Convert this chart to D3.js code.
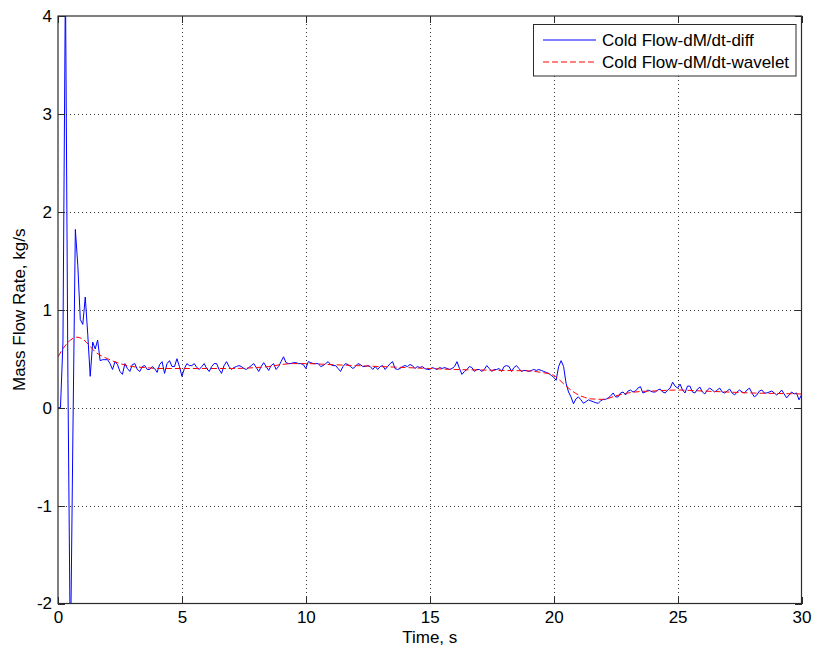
<!DOCTYPE html>
<html>
<head>
<meta charset="utf-8">
<script src="https://cdn.jsdelivr.net/npm/d3@7"></script>
<style>
  html, body { margin: 0; padding: 0; background: #fff; }
  svg { display: block; }
  text { font-family: "Liberation Sans", Arial, Helvetica, sans-serif; fill: #000; }
</style>
</head>
<body>
<svg id="chart" width="814" height="652"></svg>
<script>
// Time base of the differentiated signal (one sample every 0.1 s, from 0 s to 30 s)
const sampleStep = 0.1;

// Cold flow mass flow rate from direct differentiation of the mass, kg/s
const diffRate = [
  0, 0, 0.67, 4.4, 0.3, -2.6, -0.3, 1.82, 1.45, 0.9,
  0.85, 1.13, 0.75, 0.32, 0.67, 0.6, 0.69, 0.48, 0.49, 0.49,
  0.49, 0.45, 0.39, 0.47, 0.44, 0.37, 0.34, 0.45, 0.40, 0.37,
  0.44, 0.45, 0.39, 0.37, 0.42, 0.43, 0.39, 0.39, 0.42, 0.40,
  0.36, 0.44, 0.47, 0.35, 0.45, 0.48, 0.42, 0.42, 0.50, 0.42,
  0.32, 0.40, 0.45, 0.43, 0.43, 0.45, 0.41, 0.39, 0.42, 0.45,
  0.40, 0.37, 0.42, 0.45, 0.45, 0.39, 0.35, 0.43, 0.47, 0.42,
  0.39, 0.41, 0.42, 0.43, 0.42, 0.40, 0.39, 0.41, 0.43, 0.45,
  0.41, 0.37, 0.42, 0.46, 0.42, 0.38, 0.43, 0.45, 0.39, 0.42,
  0.47, 0.52, 0.46, 0.45, 0.45, 0.46, 0.46, 0.45, 0.45, 0.44,
  0.40, 0.47, 0.46, 0.45, 0.45, 0.45, 0.42, 0.43, 0.45, 0.47,
  0.44, 0.43, 0.43, 0.40, 0.37, 0.42, 0.45, 0.44, 0.42, 0.40,
  0.42, 0.45, 0.44, 0.42, 0.42, 0.43, 0.42, 0.39, 0.42, 0.39,
  0.42, 0.43, 0.39, 0.42, 0.45, 0.47, 0.40, 0.39, 0.40, 0.42,
  0.43, 0.42, 0.44, 0.43, 0.40, 0.42, 0.41, 0.42, 0.40, 0.39,
  0.39, 0.41, 0.40, 0.39, 0.41, 0.40, 0.41, 0.40, 0.39, 0.40,
  0.42, 0.47, 0.40, 0.34, 0.37, 0.39, 0.42, 0.41, 0.37, 0.39,
  0.39, 0.37, 0.39, 0.43, 0.40, 0.37, 0.39, 0.39, 0.40, 0.37,
  0.42, 0.43, 0.42, 0.37, 0.41, 0.43, 0.40, 0.37, 0.38, 0.38,
  0.37, 0.38, 0.39, 0.38, 0.39, 0.38, 0.37, 0.36, 0.35, 0.33,
  0.31, 0.28, 0.42, 0.48, 0.42, 0.25, 0.16, 0.11, 0.04, 0.09,
  0.11, 0.08, 0.045, 0.06, 0.08, 0.07, 0.06, 0.05, 0.045, 0.07,
  0.085, 0.085, 0.10, 0.12, 0.15, 0.11, 0.11, 0.15, 0.16, 0.13,
  0.17, 0.18, 0.16, 0.17, 0.20, 0.215, 0.15, 0.16, 0.18, 0.17,
  0.16, 0.16, 0.18, 0.19, 0.16, 0.15, 0.18, 0.20, 0.26, 0.22,
  0.20, 0.24, 0.18, 0.15, 0.22, 0.22, 0.16, 0.15, 0.19, 0.21,
  0.16, 0.14, 0.18, 0.20, 0.18, 0.16, 0.18, 0.20, 0.16, 0.15,
  0.17, 0.19, 0.15, 0.13, 0.16, 0.18, 0.16, 0.15, 0.18, 0.20,
  0.15, 0.11, 0.13, 0.17, 0.18, 0.15, 0.15, 0.16, 0.17, 0.15,
  0.13, 0.15, 0.18, 0.14, 0.10, 0.13, 0.16, 0.14, 0.15, 0.08,
  0.13
];

// Wavelet-smoothed estimate of the same quantity
const waveletTime = [0, 0.25, 0.5, 0.75, 1.0, 1.25, 1.5, 1.75, 2.0, 2.5, 3.0, 3.5, 4, 5, 6, 7, 8, 8.5, 9, 9.5, 10, 11, 12, 13, 14, 15, 16, 17, 18, 19, 19.5, 20, 20.25, 20.5, 20.75, 21, 21.25, 21.5, 22, 22.5, 23, 23.5, 24, 25, 26, 27, 28, 29, 30];
const waveletRate = [0.52, 0.62, 0.69, 0.72, 0.70, 0.64, 0.57, 0.53, 0.50, 0.45, 0.42, 0.41, 0.40, 0.40, 0.40, 0.40, 0.41, 0.42, 0.44, 0.45, 0.45, 0.44, 0.43, 0.42, 0.41, 0.40, 0.39, 0.385, 0.38, 0.375, 0.36, 0.33, 0.28, 0.22, 0.17, 0.13, 0.105, 0.09, 0.085, 0.12, 0.15, 0.165, 0.17, 0.18, 0.17, 0.16, 0.15, 0.145, 0.14];

// Axis ticks
const xTicks = [0, 5, 10, 15, 20, 25, 30];
const yTicks = [-2, -1, 0, 1, 2, 3, 4];

// Legend entries
const seriesNames = ["Cold Flow-dM/dt-diff", "Cold Flow-dM/dt-wavelet"];

const svg = d3.select("#chart");
const plot = { left: 58, right: 801.5, top: 16, bottom: 603.5 };

const x = d3.scaleLinear().domain([0, 30]).range([plot.left, plot.right]);
const y = d3.scaleLinear().domain([-2, 4]).range([plot.bottom, plot.top]);

const axisColor = "#2b2b2b";
const fontSize = 17;
const plainNumber = d => String(d); // keeps an ASCII hyphen for negatives

// Clip region for the data
svg.append("defs").append("clipPath").attr("id", "plotClip")
  .append("rect")
  .attr("x", plot.left).attr("y", plot.top)
  .attr("width", plot.right - plot.left).attr("height", plot.bottom - plot.top);

// Dotted grid
const grid = svg.append("g").attr("stroke", "#3a3a3a").attr("stroke-width", 1)
  .attr("stroke-dasharray", "1,3").attr("shape-rendering", "crispEdges");
grid.selectAll("line.gx").data(xTicks.slice(1, -1)).join("line")
  .attr("x1", d => Math.round(x(d)) + 0.5).attr("x2", d => Math.round(x(d)) + 0.5)
  .attr("y1", plot.top).attr("y2", plot.bottom);
grid.selectAll("line.gy").data(yTicks.slice(1, -1)).join("line")
  .attr("x1", plot.left).attr("x2", plot.right)
  .attr("y1", d => Math.round(y(d)) + 0.5).attr("y2", d => Math.round(y(d)) + 0.5);

// Data lines
const dataLayer = svg.append("g").attr("clip-path", "url(#plotClip)");

const diffLine = d3.line()
  .x((d, i) => x(i * sampleStep))
  .y(d => y(d));
dataLayer.append("path")
  .datum(diffRate)
  .attr("fill", "none")
  .attr("stroke", "#0000ff")
  .attr("stroke-width", 1)
  .attr("d", diffLine);

const waveletLine = d3.line()
  .x(d => x(d[0]))
  .y(d => y(d[1]))
  .curve(d3.curveMonotoneX);
dataLayer.append("path")
  .datum(waveletTime.map((t, i) => [t, waveletRate[i]]))
  .attr("fill", "none")
  .attr("stroke", "#ff0000")
  .attr("stroke-width", 1)
  .attr("stroke-dasharray", "6,3")
  .attr("d", waveletLine);

// Axes with inward ticks on all four sides
function styleAxis(g) {
  g.select(".domain").remove();
  g.selectAll(".tick line").attr("stroke", axisColor).attr("shape-rendering", "crispEdges");
  g.selectAll(".tick text").attr("font-size", fontSize).attr("fill", "#000")
    .style("font-family", "'Liberation Sans', Arial, Helvetica, sans-serif");
}
svg.append("g").attr("transform", `translate(0,${plot.bottom})`)
  .call(d3.axisBottom(x).tickValues(xTicks).tickSize(-7).tickPadding(7).tickFormat(plainNumber))
  .call(styleAxis);
svg.append("g").attr("transform", `translate(0,${plot.top})`)
  .call(d3.axisTop(x).tickValues(xTicks).tickSize(-7).tickFormat(""))
  .call(styleAxis);
svg.append("g").attr("transform", `translate(${plot.left},0)`)
  .call(d3.axisLeft(y).tickValues(yTicks).tickSize(-7).tickPadding(6).tickFormat(plainNumber))
  .call(styleAxis);
svg.append("g").attr("transform", `translate(${plot.right},0)`)
  .call(d3.axisRight(y).tickValues(yTicks).tickSize(-7).tickFormat(""))
  .call(styleAxis);

// Axes box
svg.append("rect")
  .attr("x", plot.left).attr("y", plot.top)
  .attr("width", plot.right - plot.left).attr("height", plot.bottom - plot.top)
  .attr("fill", "none").attr("stroke", axisColor).attr("stroke-width", 1.2);

// Axis titles
svg.append("text")
  .attr("x", (plot.left + plot.right) / 2).attr("y", 643)
  .attr("text-anchor", "middle").attr("font-size", fontSize)
  .text("Time, s");
svg.append("text")
  .attr("transform", `translate(25,${(plot.top + plot.bottom) / 2}) rotate(-90)`)
  .attr("text-anchor", "middle").attr("font-size", fontSize)
  .text("Mass Flow Rate, kg/s");

// Legend
const legend = svg.append("g");
legend.append("rect")
  .attr("x", 533.5).attr("y", 24.5).attr("width", 262.5).attr("height", 51.5)
  .attr("fill", "#fff").attr("stroke", axisColor).attr("stroke-width", 1);
const legendStyles = [
  { color: "#0000ff", dash: null },
  { color: "#ff0000", dash: "6,3" }
];
seriesNames.forEach((name, i) => {
  const ly = 40 + i * 22;
  legend.append("line")
    .attr("x1", 543).attr("x2", 596).attr("y1", ly).attr("y2", ly)
    .attr("stroke", legendStyles[i].color).attr("stroke-width", 1)
    .attr("stroke-dasharray", legendStyles[i].dash);
  legend.append("text")
    .attr("x", 602).attr("y", ly).attr("dy", "0.36em")
    .attr("font-size", fontSize)
    .text(name);
});
</script>
</body>
</html>
